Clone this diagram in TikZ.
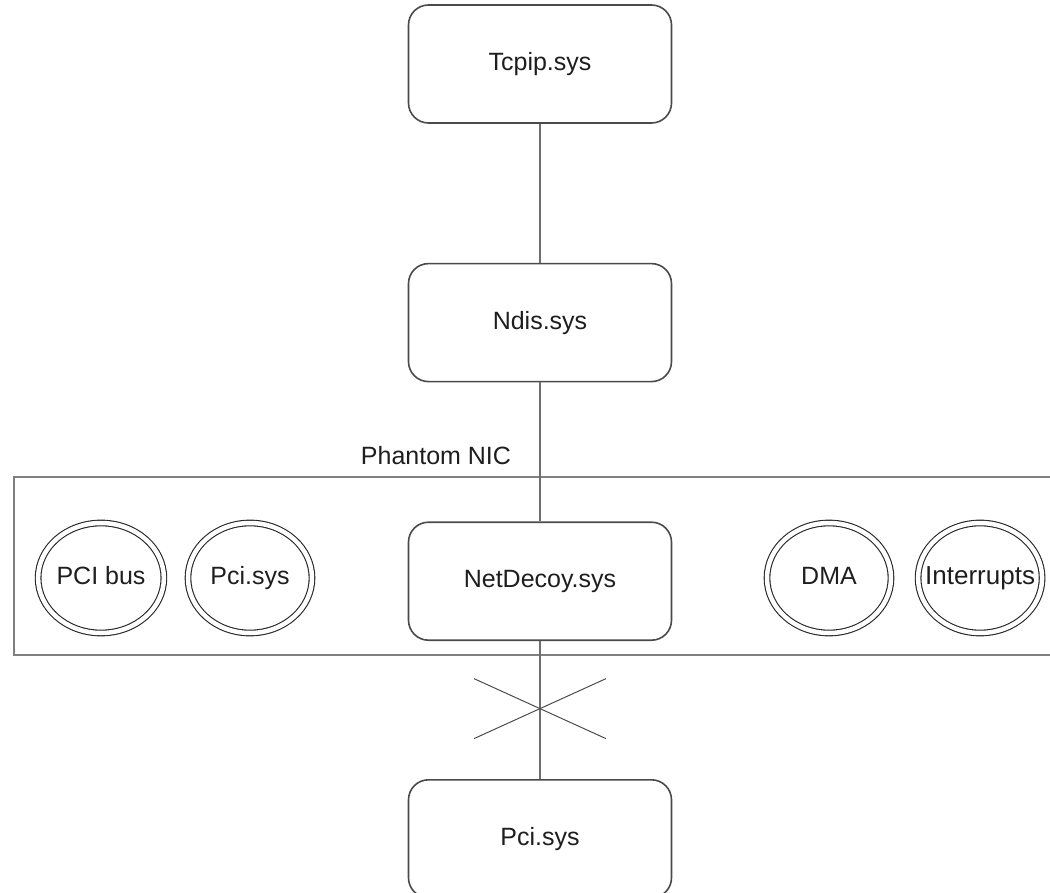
\documentclass[tikz,border=0pt]{standalone}
\usepackage{fontspec}
\setmainfont{Liberation Sans}
\usetikzlibrary{positioning,calc,shapes.geometric}
\definecolor{boxGray}{HTML}{4A4A4A}
\definecolor{lineGray}{HTML}{6E6E6E}
\definecolor{nicGray}{HTML}{808080}
\definecolor{textDark}{HTML}{1E1E1E}

\begin{document}
\begin{tikzpicture}[
  x=1pt, y=-1pt,
  font=\fontsize{25}{30}\selectfont,
  %% Node styles
  driver/.style={
    rectangle, rounded corners=20pt, draw=boxGray, fill=white,
    line width=1.6pt, minimum width=263pt, minimum height=118pt,
    inner sep=0pt, text=textDark, text height=18pt, text depth=5pt
  },
  res/.style={
    ellipse, draw=black!85, double=white, double distance=4.5pt,
    line width=1.1pt, minimum width=124pt, minimum height=110pt,
    inner sep=0pt, text=textDark, text height=18pt, text depth=5pt
  },
  nicbox/.style={
    rectangle, draw=nicGray, line width=2.4pt,
    minimum width=1058pt, minimum height=178pt, inner sep=0pt
  },
  link/.style={draw=lineGray, line width=2pt},
  cross/.style={draw=black!70, line width=1pt},
]
\useasboundingbox (0,0) rectangle (1050,893);

%% ── Phantom NIC frame ─────────────────────────────────────────────────────
\node[nicbox] (nic) at (543,566) {};
\node[text=textDark] (niclabel) at (436,456) {Phantom NIC};

%% ── Driver stack ──────────────────────────────────────────────────────────
\node[driver] (tcpip) at (540,64) {Tcpip.sys};
\node[driver, below=139pt of tcpip] (ndis) {Ndis.sys};
\node[driver, below=139pt of ndis] (netdecoy) {NetDecoy.sys};
\node[driver, below=138pt of netdecoy] (pcisys) {Pci.sys};

%% ── Resources inside the NIC ──────────────────────────────────────────────
\node[res] (pcibus) at (101,578) {PCI bus};
\node[res, right=23pt of pcibus] (pcicirc) {Pci.sys};
\node[res] (dma) at (829,578) {DMA};
%% text wider than the ring: keep it out of the shape size
\node[res, right=26pt of dma,
      label={[text=textDark, inner sep=0pt, text height=18pt, text depth=5pt,
              font=\fontsize{26}{30}\selectfont]center:Interrupts}] (intr) {};

%% ── Links ─────────────────────────────────────────────────────────────────
\draw[link] (tcpip) -- (ndis);
\draw[link] (ndis) -- (netdecoy);
\draw[link] (netdecoy) -- (pcisys);

%% cut mark on the lower link
\coordinate (cut) at ($(netdecoy.south)!0.49!(pcisys.north)$);
\draw[cross] ($(cut)+(-66,-30)$) -- ($(cut)+(66,30)$);
\draw[cross] ($(cut)+(-66,30)$) -- ($(cut)+(66,-30)$);

\end{tikzpicture}
\end{document}
